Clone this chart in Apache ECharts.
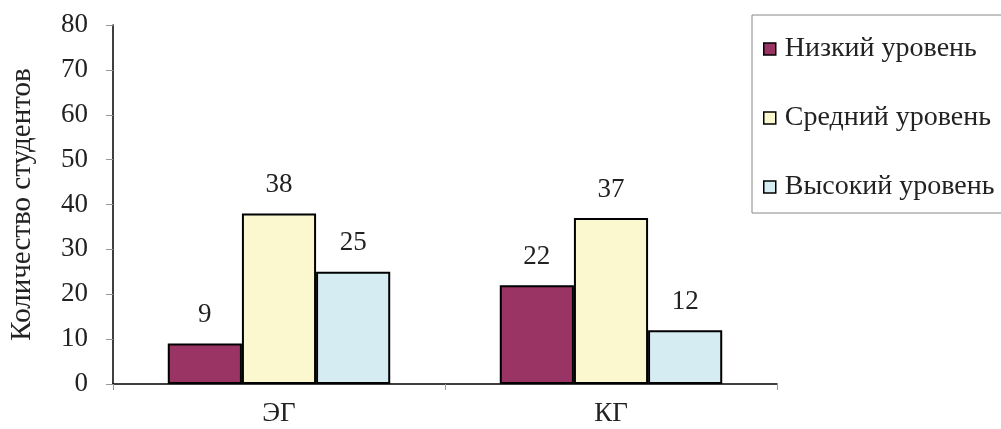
<!DOCTYPE html>
<html>
<head>
<meta charset="utf-8">
<script src="https://cdn.jsdelivr.net/npm/echarts@6/dist/echarts.min.js"></script>
<style>html,body{margin:0;padding:0;background:#fff;}#c{width:1001px;height:429px;}</style>
</head>
<body>
<div id="c"></div>
<script>
const categories = ['ЭГ', 'КГ'];
const seriesNames = ['Низкий уровень', 'Средний уровень', 'Высокий уровень'];
const lowValues = [9, 22];
const midValues = [38, 37];
const highValues = [25, 12];
const yTicks = [0, 10, 20, 30, 40, 50, 60, 70, 80];
const colors = ['#993464', '#FBF8D0', '#D5ECF2'];

const font = 'Liberation Serif';
const FS = 27;
const chart = echarts.init(document.getElementById('c'));
const mk = (name, data, color) => ({
  name, type: 'bar', data,
  barGap: '0%', barCategoryGap: '33%',
  itemStyle: { color, borderColor: '#000', borderWidth: 2 },
  label: { show: true, position: 'top', distance: 15, color: '#222', fontFamily: font, fontSize: FS }
});
chart.setOption({
  animation: false,
  textStyle: { fontFamily: font },
  grid: { left: 113, right: 224, top: 25, bottom: 45, containLabel: false, outerBoundsMode: 'none' },
  xAxis: {
    type: 'category', data: categories,
    axisLine: { lineStyle: { color: '#000', width: 1.5 } },
    axisTick: { show: true, length: 6, lineStyle: { color: '#999' } },
    axisLabel: { color: '#222', fontFamily: font, fontSize: FS, margin: 16 }
  },
  yAxis: {
    type: 'value', min: yTicks[0], max: yTicks[yTicks.length - 1], interval: 10,
    name: 'Количество студентов', nameLocation: 'middle', nameGap: 76, nameRotate: 90,
    nameTextStyle: { color: '#222', fontFamily: font, fontSize: 29 },
    axisLine: { show: true, lineStyle: { color: '#000', width: 1.5 } },
    axisTick: { show: true, length: 7, lineStyle: { color: '#999' } },
    splitLine: { show: false },
    axisLabel: { color: '#222', fontFamily: font, fontSize: FS, margin: 25 }
  },
  legend: {
    orient: 'vertical', left: 752, top: 15,
    data: seriesNames,
    padding: [20, 30, 12, 11], itemGap: 41,
    itemWidth: 12, itemHeight: 12, icon: 'rect',
    borderColor: '#888', borderWidth: 1,
    itemStyle: { borderColor: '#000', borderWidth: 1.5 },
    textStyle: { color: '#222', fontFamily: font, fontSize: 28, padding: [0, 0, 0, 4] }
  },
  series: [
    mk(seriesNames[0], lowValues, colors[0]),
    mk(seriesNames[1], midValues, colors[1]),
    mk(seriesNames[2], highValues, colors[2])
  ]
});
</script>
</body>
</html>
